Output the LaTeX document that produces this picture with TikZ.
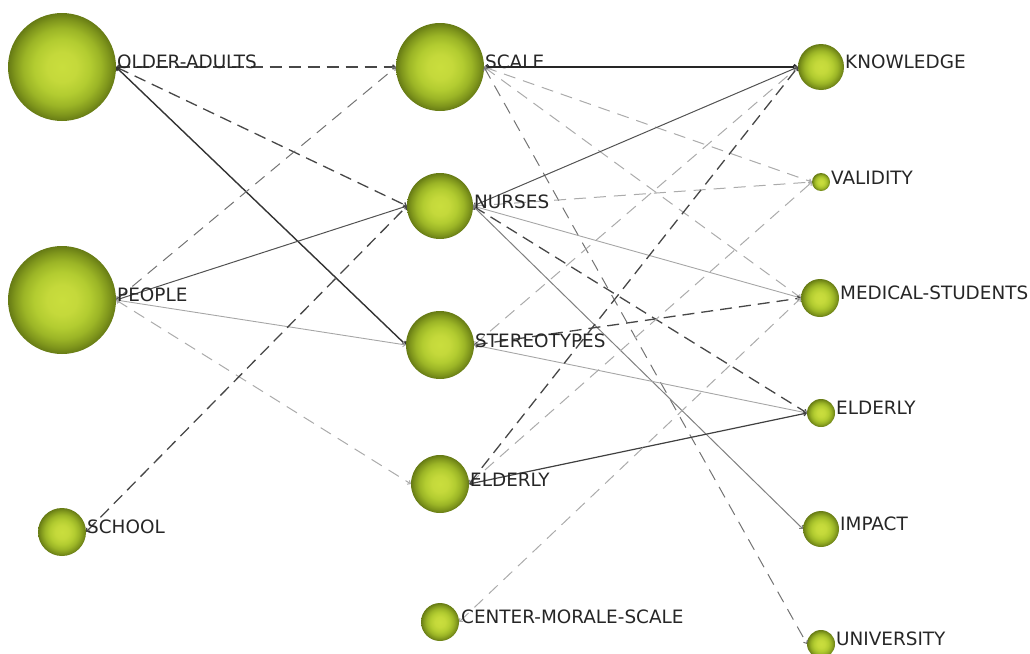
\documentclass[tikz,border=0pt]{standalone}
\usepackage{fontspec}
\setmainfont{DejaVu Sans}
\usetikzlibrary{arrows.meta}
\pgfdeclareradialshading{nodeball}{\pgfpoint{0bp}{0bp}}{rgb(0bp)=(0.79,0.87,0.24); rgb(7bp)=(0.77,0.85,0.23); rgb(13bp)=(0.70,0.80,0.19); rgb(18bp)=(0.61,0.71,0.15); rgb(22bp)=(0.50,0.59,0.11); rgb(25bp)=(0.40,0.48,0.08); rgb(100bp)=(0.40,0.48,0.08)}
\tikzset{
  ball/.style={circle, shading=nodeball, draw=none, inner sep=0pt, outer sep=0pt},
  lbl/.style={anchor=base west, inner sep=0pt, text=black!85, font=\fontsize{18.4}{18.4}\selectfont},
  tips/.style={arrows={Straight Barb[length=2.5pt,width=4.5pt]-Straight Barb[length=2.5pt,width=4.5pt]}},
  eA/.style={tips, draw=black!85, line width=2.2pt},
  eB/.style={tips, draw=black!80, line width=1.4pt},
  eC/.style={tips, draw=black!72, line width=1.3pt, dash pattern=on 12pt off 7pt},
  eD/.style={tips, draw=black!68, line width=1pt},
  eE/.style={tips, draw=black!50, line width=1pt},
  eF/.style={tips, draw=black!35, line width=0.9pt},
  eG/.style={tips, draw=black!55, line width=1pt, dash pattern=on 12pt off 8pt},
  eH/.style={tips, draw=black!33, line width=1pt, dash pattern=on 12pt off 8pt}
}
\begin{document}
\begin{tikzpicture}[x=1pt,y=-1pt]
\useasboundingbox (0,0) rectangle (1030,653);
\node[ball, minimum size=108pt] (oa) at (62,67) {};
\node[ball, minimum size=108pt] (pe) at (62,300) {};
\node[ball, minimum size=48pt] (sc) at (62,532) {};
\node[ball, minimum size=88pt] (scale) at (440,67) {};
\node[ball, minimum size=66pt] (nu) at (440,206) {};
\node[ball, minimum size=68pt] (st) at (440,345) {};
\node[ball, minimum size=58pt] (el) at (440,484) {};
\node[ball, minimum size=38pt] (cms) at (440,622) {};
\node[ball, minimum size=46pt] (kn) at (821,67) {};
\node[ball, minimum size=18pt] (va) at (821,182) {};
\node[ball, minimum size=38pt] (ms) at (820,298) {};
\node[ball, minimum size=28pt] (er) at (821,413) {};
\node[ball, minimum size=36pt] (im) at (821,529) {};
\node[ball, minimum size=28pt] (un) at (821,644) {};
% left to middle
\draw[eC] (oa.east) -- (scale.west);
\draw[eC] (oa.east) -- (nu.west);
\draw[eB] (oa.east) -- (st.west);
\draw[eG] (pe.east) -- (scale.west);
\draw[eD] (pe.east) -- (nu.west);
\draw[eF] (pe.east) -- (st.west);
\draw[eH] (pe.east) -- (el.west);
\draw[eC] (sc.east) -- (nu.west);
% middle to right
\draw[eA] (scale.east) -- (kn.west);
\draw[eH] (scale.east) -- (va.west);
\draw[eH] (scale.east) -- (ms.west);
\draw[eG] (scale.east) -- (un.west);
\draw[eD] (nu.east) -- (kn.west);
\draw[eH] (nu.east) -- (va.west);
\draw[eF] (nu.east) -- (ms.west);
\draw[eC] (nu.east) -- (er.west);
\draw[eE] (nu.east) -- (im.west);
\draw[eH] (st.east) -- (kn.west);
\draw[eC] (st.east) -- (ms.west);
\draw[eF] (st.east) -- (er.west);
\draw[eC] (el.east) -- (kn.west);
\draw[eH] (el.east) -- (va.west);
\draw[eB, line width=1.2pt, draw=black!75] (el.east) -- (er.west);
\draw[eH] (cms.east) -- (ms.west);
% labels
\node[lbl] (oaL) at (117,68) {OLDER-ADULTS};
\node[lbl] (peL) at (117,301) {PEOPLE};
\node[lbl] (scL) at (87,533) {SCHOOL};
\node[lbl] (scaleL) at (485,68) {SCALE};
\node[lbl] (nuL) at (474,208) {NURSES};
\node[lbl] (stL) at (475,347) {STEREOTYPES};
\node[lbl] (elL) at (470,486) {ELDERLY};
\node[lbl] (cmsL) at (461,623) {CENTER-MORALE-SCALE};
\node[lbl] (knL) at (845,68) {KNOWLEDGE};
\node[lbl] (vaL) at (831,184) {VALIDITY};
\node[lbl] (msL) at (840,299) {MEDICAL-STUDENTS};
\node[lbl] (erL) at (836,414) {ELDERLY};
\node[lbl] (imL) at (840,530) {IMPACT};
\node[lbl] (unL) at (836,645) {UNIVERSITY};
\end{tikzpicture}
\end{document}
